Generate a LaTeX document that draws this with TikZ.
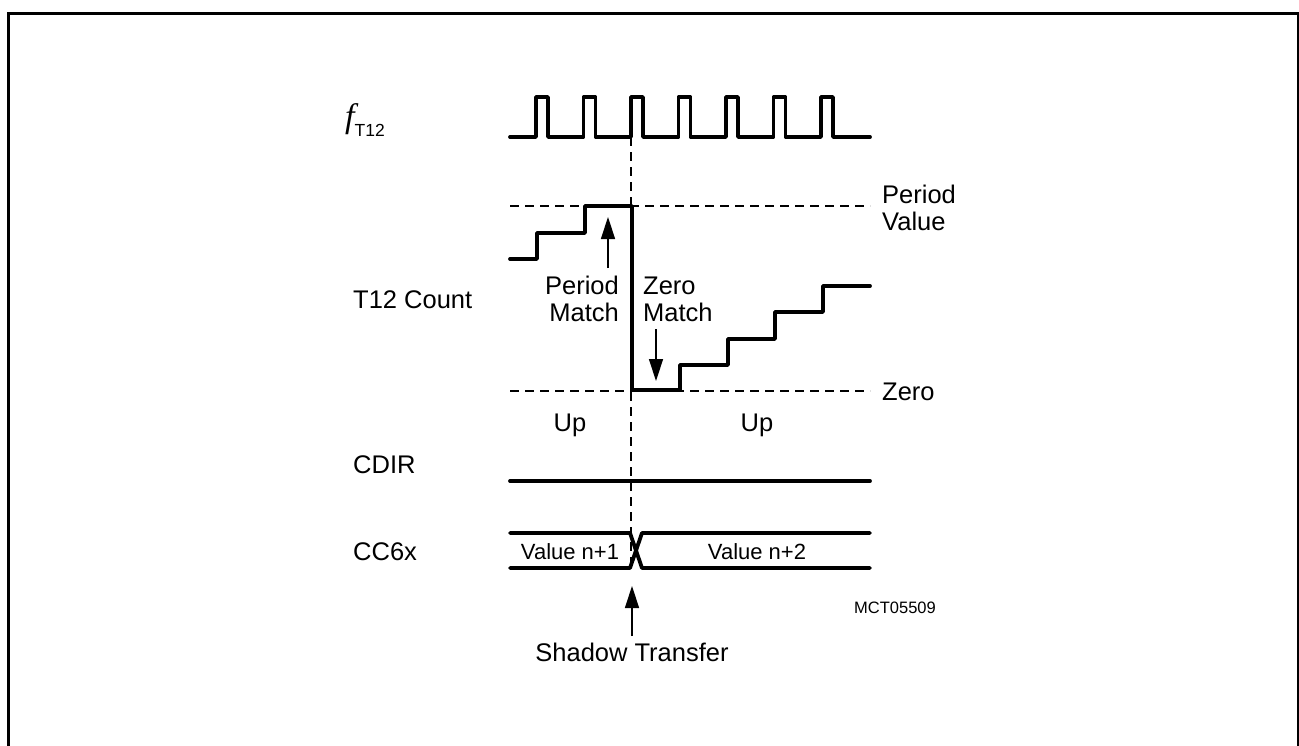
\documentclass[tikz,border=0pt]{standalone}
\usepackage{fontspec}
\setmainfont{Liberation Sans}
\newfontfamily\seriffont{Liberation Serif}
\usetikzlibrary{arrows.meta}
\tikzset{
  wave/.style={line width=3.8pt, line join=round, line cap=round},
  guide/.style={line width=1.8pt, dash pattern=on 9pt off 6pt},
  marker/.style={line width=1.4pt, -{Triangle[length=22pt,width=14pt]}},
  lbl/.style={inner sep=0pt, font=\fontsize{25.5}{28}\selectfont},
  vlbl/.style={inner sep=0pt, font=\fontsize{22}{26}\selectfont},
  small/.style={inner sep=0pt, font=\fontsize{16.5}{19}\selectfont},
  frame/.style={line width=3pt}
}
\begin{document}
\begin{tikzpicture}[x=1pt,y=-1pt]
\useasboundingbox (0,0) rectangle (1299,745);
\begin{scope}
\clip (0,0) rectangle (1299,745);
\draw[frame] (8,760) -- (8,13) -- (1298,13) -- (1298,760);
\end{scope}

% signal labels
\node[anchor=base west, inner sep=0pt] (fT) at (345,127) {{\fontsize{34}{36}\selectfont\seriffont\itshape f}\raisebox{-9pt}{\fontsize{17.5}{20}\selectfont T12}};
\node[lbl, anchor=west] (cnt) at (353,300) {T12 Count};
\node[lbl, anchor=west] (cdir) at (353,465) {CDIR};
\node[lbl, anchor=west] (cc) at (353,552) {CC6x};

% guide lines
\draw[guide] (510,206) -- (870,206);
\draw[guide] (510,391) -- (870,391);
\draw[guide] (631,137) -- (631,568);
\node[lbl, anchor=west, align=left] (pv) at (882,208) {Period\\[-1pt]Value};
\node[lbl, anchor=west] (zr) at (882,392) {Zero};

% clock
\draw[wave] (510,137)
  \foreach \r in {536,583.5,631,678.5,726,773.5,821} { -- (\r,137) -- (\r,97) -- (\r+12,97) -- (\r+12,137) }
  -- (870,137);

% counter staircase
\draw[wave] (510,259) -- (537,259) -- (537,233) -- (585,233) -- (585,206) -- (632,206)
  -- (632,390) -- (680,390) -- (680,365) -- (728,365) -- (728,339) -- (775,339)
  -- (775,312) -- (823,312) -- (823,286) -- (870,286);

% match labels and arrows
\node[lbl, anchor=east, align=right] (pm) at (619,299) {Period\\[-1pt]Match};
\node[lbl, anchor=west, align=left] (zm) at (643,299) {Zero\\[-1pt]Match};
\coordinate (pmtip) at (608,217);
\coordinate (zmtip) at (656,381);
\draw[marker] (608,268) -- (pmtip);
\draw[marker] (656,329) -- (zmtip);

\node[lbl] (up1) at (570,425) {Up};
\node[lbl] (up2) at (757,425) {Up};

% CDIR
\draw[wave] (510,481) -- (870,481);

% CC6x
\draw[wave] (510,533) -- (630,533) -- (642,568) -- (870,568);
\draw[wave] (510,568) -- (630,568) -- (642,533) -- (870,533);
\node[vlbl] (v1) at (570,552) {Value n+1};
\node[vlbl] (v2) at (757,552) {Value n+2};

% shadow transfer
\node[lbl, anchor=north] (st) at (632,643) {Shadow Transfer};
\coordinate (sttip) at (632,586);
\draw[marker] (st.north) ++(0,-7) -- (sttip);

\node[small] (id) at (895,608) {MCT05509};
\end{tikzpicture}
\end{document}
